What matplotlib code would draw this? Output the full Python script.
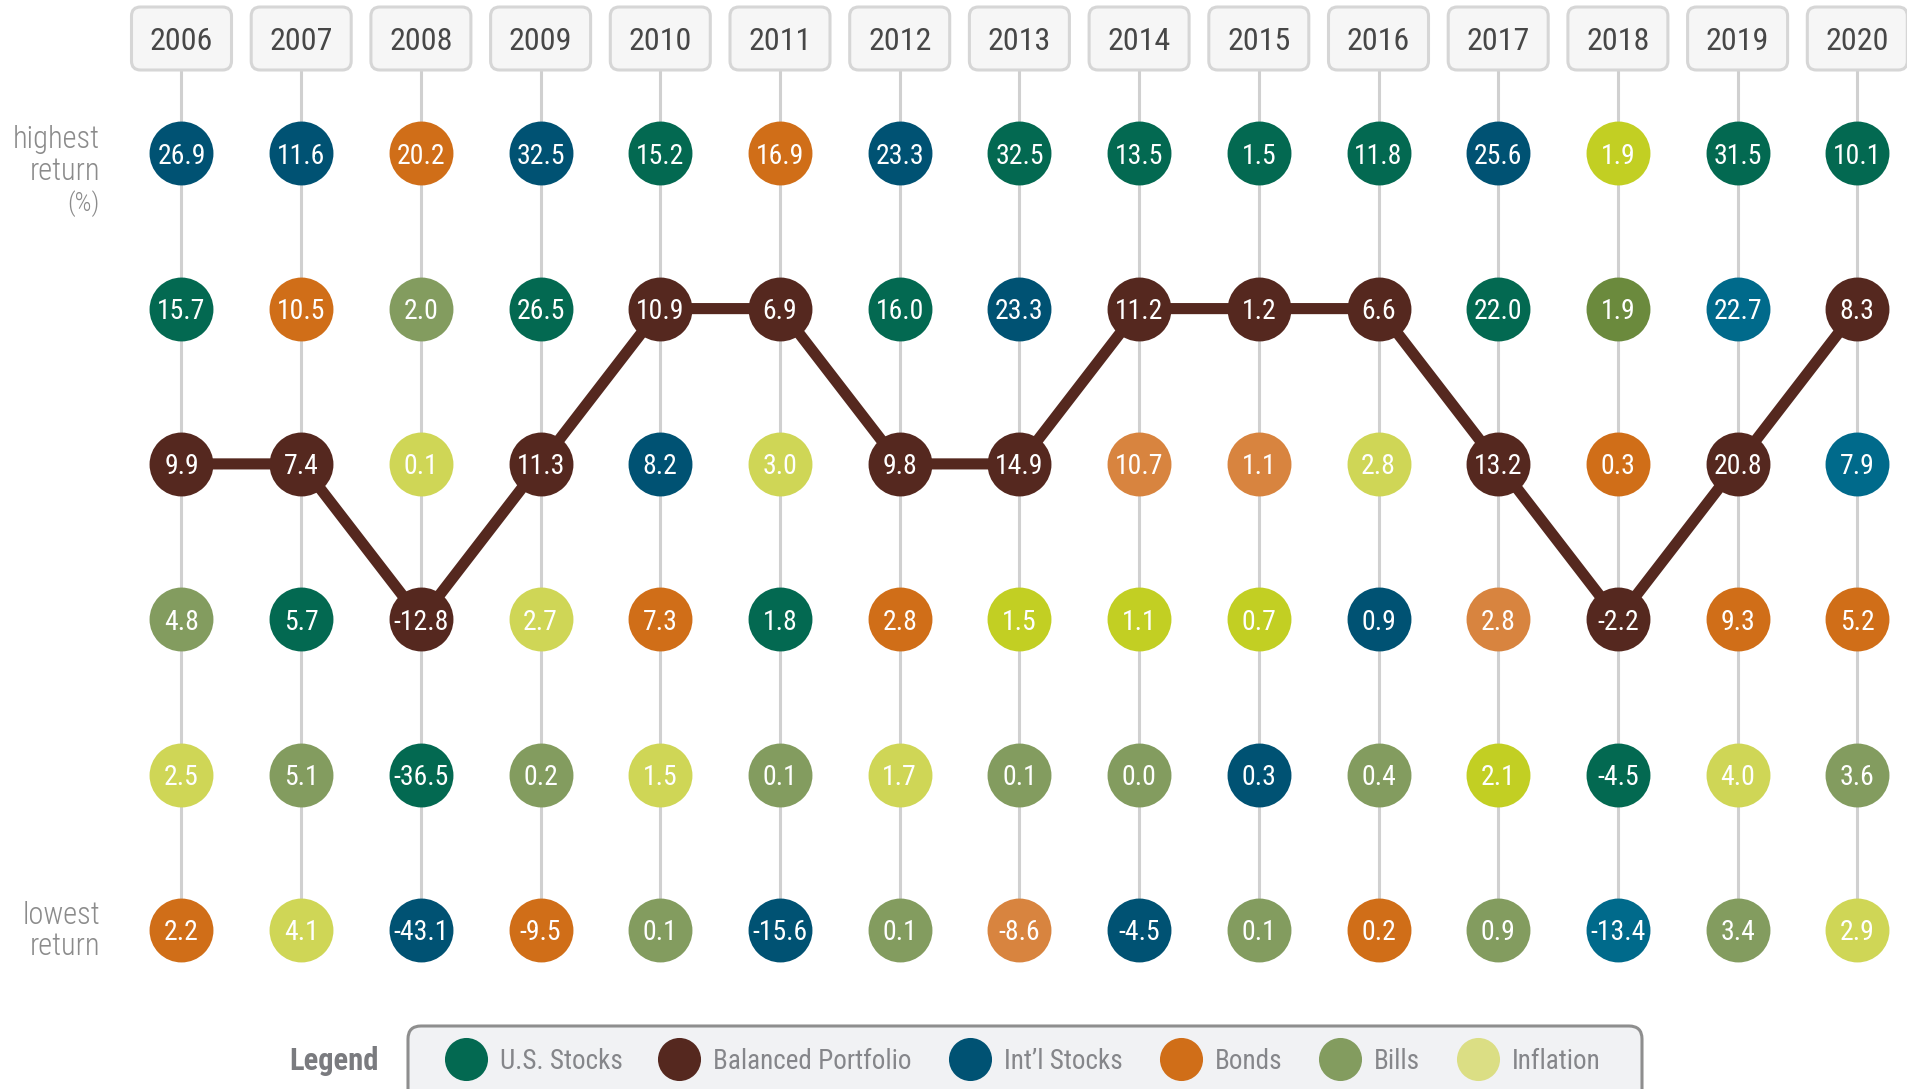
import matplotlib
matplotlib.use("Agg")
import matplotlib.pyplot as plt
from matplotlib import font_manager as fm
from matplotlib.patches import FancyBboxPatch

# ---------------- data ----------------
years = [2006, 2007, 2008, 2009, 2010, 2011, 2012, 2013, 2014, 2015, 2016, 2017, 2018, 2019, 2020]

# values per year, ranked from highest (top) to lowest (bottom)
values = [
    [26.9, 15.7, 9.9, 4.8, 2.5, 2.2],
    [11.6, 10.5, 7.4, 5.7, 5.1, 4.1],
    [20.2, 2.0, 0.1, -12.8, -36.5, -43.1],
    [32.5, 26.5, 11.3, 2.7, 0.2, -9.5],
    [15.2, 10.9, 8.2, 7.3, 1.5, 0.1],
    [16.9, 6.9, 3.0, 1.8, 0.1, -15.6],
    [23.3, 16.0, 9.8, 2.8, 1.7, 0.1],
    [32.5, 23.3, 14.9, 1.5, 0.1, -8.6],
    [13.5, 11.2, 10.7, 1.1, 0.0, -4.5],
    [1.5, 1.2, 1.1, 0.7, 0.3, 0.1],
    [11.8, 6.6, 2.8, 0.9, 0.4, 0.2],
    [25.6, 22.0, 13.2, 2.8, 2.1, 0.9],
    [1.9, 1.9, 0.3, -2.2, -4.5, -13.4],
    [31.5, 22.7, 20.8, 9.3, 4.0, 3.4],
    [10.1, 8.3, 7.9, 5.2, 3.6, 2.9],
]

# asset class of each cell (U=U.S. Stocks, P=Balanced Portfolio, I=Int'l Stocks,
# B=Bonds, L=Bills, F=Inflation; '*' marks the alternate shade used in the original)
assets = [
    ["I", "U", "P", "L", "F", "B"],
    ["I", "B", "P", "U", "L", "F"],
    ["B", "L", "F", "P", "U", "I"],
    ["I", "U", "P", "F", "L", "B"],
    ["U", "P", "I", "B", "F", "L"],
    ["B", "P", "F", "U", "L", "I"],
    ["I", "U", "P", "B", "F", "L"],
    ["U", "I", "P", "F*", "L", "B*"],
    ["U", "P", "B*", "F*", "L", "I"],
    ["U", "P", "B*", "F*", "I", "L"],
    ["U", "P", "F", "I", "L", "B"],
    ["I", "U", "P", "B*", "F*", "L"],
    ["F*", "L*", "B", "P", "U", "I*"],
    ["U", "I*", "P", "B", "F", "L"],
    ["U", "P", "I*", "B", "L", "F"],
]

legend_codes = ["U", "P", "I", "B", "L", "F"]
legend_labels = ["U.S. Stocks", "Balanced Portfolio", "Int\u2019l Stocks", "Bonds", "Bills", "Inflation"]

colors = {
    "U": "#036951", "P": "#55281f",
    "I": "#005273", "I*": "#006a8b",
    "B": "#d06e18", "B*": "#d8843f",
    "L": "#839c5f", "L*": "#6b8a3d",
    "F": "#cfd656", "F*": "#c2cf23",
}
legend_colors = {"U": "#036951", "P": "#55281f", "I": "#005273",
                 "B": "#d06e18", "L": "#839c5f", "F": "#dbde84"}

# ---------------- font ----------------
names = {f.name for f in fm.fontManager.ttflist}
FONT = next(c for c in ["Roboto Condensed", "Liberation Sans Narrow", "Open Sans Condensed",
                        "Roboto", "DejaVu Sans"] if c in names)
plt.rcParams["font.family"] = [FONT, "DejaVu Sans"]

# ---------------- layout ----------------
W, H = 1908, 1089
X0, DX = 181.5, 119.7       # px of first column, px per column
Y0, DY = 153.3, 155.3       # px of first row, px per row


def xd(px):
    return (px - X0) / DX


def yd(py):
    return (py - Y0) / DY


fig = plt.figure(figsize=(W / 100, H / 100), dpi=100)
ax = fig.add_axes([0, 0, 1, 1])
ax.set_xlim(xd(0), xd(W))
ax.set_ylim(yd(H), yd(0))
ax.axis("off")

n_rows = len(values[0])
aspect = (1 / DY) / (1 / DX)

# vertical guide lines and year boxes
for i, yr in enumerate(years):
    ax.plot([i, i], [yd(70), n_rows - 1], color="#d0d0d0", lw=2.2, zorder=1,
            solid_capstyle="butt")
    bw, bh = 100 / DX, 63 / DY
    box = FancyBboxPatch((i - bw / 2, yd(7)), bw, bh,
                         boxstyle="round,pad=0,rounding_size=%f" % (9 / DX),
                         mutation_aspect=aspect,
                         facecolor="#f6f6f6", edgecolor="#d6d6d6", lw=2.2, zorder=2)
    ax.add_patch(box)
    ax.text(i, yd(38.5), str(yr), ha="center", va="center_baseline",
            fontsize=23, color="#474747", zorder=3)

# balanced portfolio line
bal_cols = list(range(len(years)))
bal_rows = [col.index("P") for col in assets]
ax.plot(bal_cols, bal_rows, color=colors["P"], lw=8.0, zorder=3,
        solid_joinstyle="miter", solid_capstyle="butt")

# circles and labels
for i in range(len(years)):
    for r in range(n_rows):
        ax.scatter(i, r, s=46 ** 2, color=colors[assets[i][r]], linewidths=0, zorder=4)
        ax.text(i, r, f"{values[i][r]:.1f}", ha="center", va="center_baseline",
                fontsize=20, color="white", zorder=5)

# row labels
lab_kw = dict(ha="right", va="baseline", color="#8b8b8b", fontweight="light")
ax.text(xd(100), yd(148), "highest", fontsize=22, **lab_kw)
ax.text(xd(100), yd(180), "return", fontsize=22, **lab_kw)
ax.text(xd(100), yd(211), "(%)", fontsize=19, **lab_kw)
ax.text(xd(100), yd(924), "lowest", fontsize=22, **lab_kw)
ax.text(xd(100), yd(955), "return", fontsize=22, **lab_kw)

# legend
leg_box = FancyBboxPatch((xd(408), yd(1026)), (1642 - 408) / DX, 100 / DY,
                         boxstyle="round,pad=0,rounding_size=%f" % (13 / DX),
                         mutation_aspect=aspect,
                         facecolor="#f1f2f4", edgecolor="#8e8e8e", lw=2.2, zorder=2)
ax.add_patch(leg_box)
ax.text(xd(379), yd(1070), "Legend", ha="right", va="baseline", fontsize=22,
        fontweight="bold", color="#7a7b7f", zorder=3)
leg_cx = [466, 679, 970, 1181, 1340, 1478]
for code, label, cx in zip(legend_codes, legend_labels, leg_cx):
    ax.scatter(xd(cx), yd(1059), s=31 ** 2, color=legend_colors[code], linewidths=0, zorder=4)
    ax.text(xd(cx + 34), yd(1069), label, ha="left", va="baseline", fontsize=19.5,
            color="#85868a", zorder=4)

fig.savefig("out.png", dpi=100)
